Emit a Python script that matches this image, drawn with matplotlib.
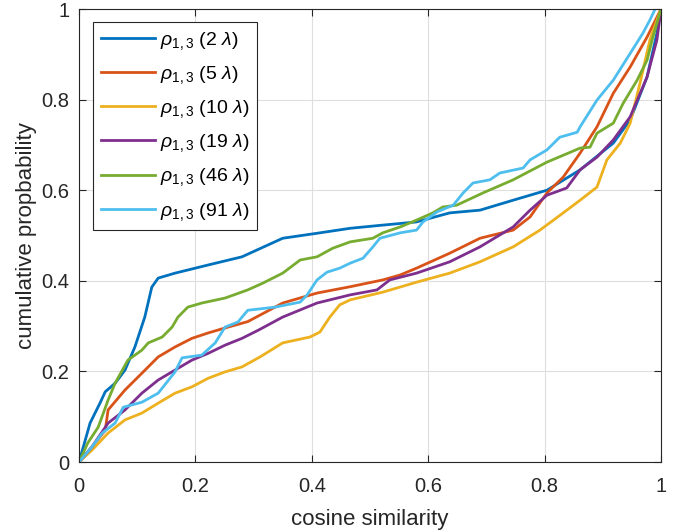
import matplotlib
matplotlib.use('Agg')
import matplotlib.pyplot as plt

plt.rcParams['font.family'] = ['Liberation Sans', 'DejaVu Sans']
plt.rcParams['mathtext.fontset'] = 'custom'
plt.rcParams['mathtext.rm'] = 'Liberation Sans'
plt.rcParams['mathtext.it'] = 'Liberation Sans:italic'

# spacing in wavelengths, one CDF per spacing
spacings = ['2', '5', '10', '19', '46', '91']
colors = ['#0072BD', '#D95319', '#EDB120', '#7E2F8E', '#77AC30', '#4DBEEE']

x_2 = [0, 0.019, 0.036, 0.045, 0.062, 0.079, 0.096, 0.113, 0.125, 0.136, 0.165,
       0.222, 0.28, 0.35, 0.409, 0.466, 0.522, 0.58, 0.637, 0.689, 0.746, 0.804,
       0.861, 0.918, 0.947, 0.976, 0.993, 1.0]
y_2 = [0, 0.086, 0.13, 0.155, 0.174, 0.203, 0.254, 0.32, 0.386, 0.406, 0.417,
       0.435, 0.453, 0.494, 0.505, 0.516, 0.523, 0.53, 0.55, 0.556, 0.578, 0.6,
       0.645, 0.704, 0.755, 0.85, 0.947, 1.0]

x_5 = [0, 0.02, 0.045, 0.05, 0.079, 0.108, 0.136, 0.165, 0.194, 0.222, 0.251,
       0.29, 0.35, 0.409, 0.466, 0.522, 0.552, 0.58, 0.637, 0.689, 0.746, 0.775,
       0.804, 0.832, 0.861, 0.89, 0.918, 0.947, 0.976, 0.993, 1.0]
y_5 = [0, 0.03, 0.07, 0.115, 0.159, 0.196, 0.232, 0.254, 0.273, 0.285, 0.296,
       0.31, 0.351, 0.373, 0.387, 0.402, 0.413, 0.428, 0.461, 0.494, 0.512, 0.541,
       0.594, 0.629, 0.682, 0.74, 0.814, 0.872, 0.938, 0.982, 1.0]

x_10 = [0, 0.022, 0.05, 0.079, 0.108, 0.136, 0.165, 0.194, 0.222, 0.251, 0.28,
        0.311, 0.35, 0.397, 0.414, 0.431, 0.448, 0.466, 0.522, 0.58, 0.637, 0.689,
        0.746, 0.792, 0.832, 0.861, 0.89, 0.907, 0.93, 0.947, 0.964, 0.981, 1.0]
y_10 = [0, 0.026, 0.064, 0.093, 0.108, 0.13, 0.152, 0.166, 0.185, 0.199, 0.21,
        0.232, 0.263, 0.276, 0.287, 0.32, 0.347, 0.358, 0.375, 0.397, 0.417, 0.442,
        0.475, 0.512, 0.55, 0.578, 0.607, 0.667, 0.704, 0.748, 0.837, 0.932, 1.0]

x_19 = [0, 0.022, 0.05, 0.079, 0.108, 0.136, 0.165, 0.194, 0.222, 0.251, 0.28,
        0.308, 0.35, 0.409, 0.466, 0.512, 0.534, 0.58, 0.637, 0.689, 0.746, 0.775,
        0.804, 0.838, 0.861, 0.89, 0.918, 0.947, 0.976, 0.993, 1.0]
y_19 = [0, 0.033, 0.086, 0.115, 0.152, 0.181, 0.203, 0.225, 0.24, 0.258, 0.273,
        0.291, 0.32, 0.351, 0.369, 0.38, 0.402, 0.417, 0.442, 0.475, 0.519, 0.556,
        0.589, 0.605, 0.645, 0.673, 0.711, 0.762, 0.85, 0.932, 1.0]

x_46 = [0, 0.015, 0.033, 0.05, 0.062, 0.084, 0.108, 0.119, 0.143, 0.16, 0.17,
        0.187, 0.211, 0.251, 0.29, 0.316, 0.35, 0.38, 0.409, 0.436, 0.466, 0.505,
        0.522, 0.552, 0.58, 0.608, 0.625, 0.649, 0.694, 0.746, 0.804, 0.861, 0.878,
        0.89, 0.918, 0.935, 0.959, 0.976, 0.986, 1.0]
y_46 = [0, 0.042, 0.077, 0.137, 0.174, 0.225, 0.247, 0.263, 0.276, 0.298, 0.32,
        0.342, 0.351, 0.362, 0.38, 0.395, 0.417, 0.446, 0.453, 0.472, 0.486, 0.494,
        0.506, 0.519, 0.534, 0.55, 0.563, 0.567, 0.594, 0.623, 0.662, 0.693, 0.695,
        0.726, 0.748, 0.792, 0.843, 0.887, 0.938, 1.0]

x_91 = [0, 0.022, 0.04, 0.062, 0.076, 0.108, 0.136, 0.165, 0.177, 0.211, 0.234,
        0.251, 0.273, 0.29, 0.337, 0.38, 0.392, 0.409, 0.426, 0.448, 0.466, 0.488,
        0.505, 0.517, 0.552, 0.58, 0.591, 0.615, 0.643, 0.66, 0.677, 0.706, 0.723,
        0.763, 0.775, 0.804, 0.826, 0.856, 0.861, 0.89, 0.918, 0.947, 0.969, 0.981,
        0.99]
y_91 = [0, 0.033, 0.064, 0.086, 0.121, 0.132, 0.152, 0.199, 0.23, 0.236, 0.263,
        0.298, 0.309, 0.335, 0.342, 0.353, 0.369, 0.402, 0.419, 0.428, 0.439, 0.45,
        0.475, 0.494, 0.506, 0.512, 0.53, 0.552, 0.567, 0.594, 0.616, 0.623, 0.638,
        0.649, 0.667, 0.689, 0.717, 0.728, 0.74, 0.799, 0.843, 0.902, 0.947, 0.976,
        1.0]

curves = [(x_2, y_2), (x_5, y_5), (x_10, y_10), (x_19, y_19), (x_46, y_46),
          (x_91, y_91)]

fig = plt.figure(figsize=(6.83, 5.31), dpi=100)
ax = fig.add_axes([0.1157, 0.1299, 0.8521, 0.8531])

for (xs, ys), sp, c in zip(curves, spacings, colors):
    ax.plot(xs, ys, color=c, lw=2, label=r'$\rho_{1,3}$ (' + sp + r' $\lambda$)')

ax.set_xlim(0, 1)
ax.set_ylim(0, 1)
ticks = [0, 0.2, 0.4, 0.6, 0.8, 1]
ticklabels = ['0', '0.2', '0.4', '0.6', '0.8', '1']
ax.set_xticks(ticks)
ax.set_xticklabels(ticklabels)
ax.set_yticks(ticks)
ax.set_yticklabels(ticklabels)
ax.tick_params(direction='in', top=True, right=True, labelsize=14.5,
               color='#262626', labelcolor='#262626', length=5)
ax.tick_params(axis='x', pad=11)
ax.tick_params(axis='y', pad=7)
ax.grid(True, color='#dedede', lw=0.8)
ax.set_axisbelow(True)
for s in ax.spines.values():
    s.set_color('#262626')
    s.set_linewidth(0.8)
ax.set_xlabel('cosine similarity', fontsize=16, color='#262626', labelpad=9.5)
ax.set_ylabel('cumulative propbability', fontsize=16, color='#262626', labelpad=3)

leg = ax.legend(loc='upper left', bbox_to_anchor=(0.024, 0.971), fontsize=14,
                fancybox=False, framealpha=1, edgecolor='#262626',
                handlelength=2.8, handletextpad=0.25, labelspacing=0.63,
                borderpad=0.4, borderaxespad=0)
leg.get_frame().set_linewidth(0.8)

fig.savefig('out.png', dpi=100)
